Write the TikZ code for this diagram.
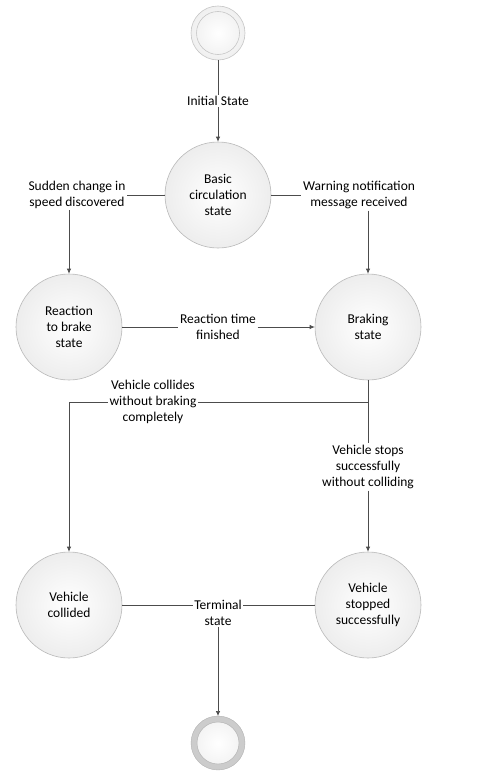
\documentclass[tikz,border=0pt]{standalone}
\usepackage{fontspec}
\setmainfont{Carlito}
\usetikzlibrary{arrows.meta}
\begin{document}
\begin{tikzpicture}[x=1pt,y=-1pt,
  every node/.style={font=\fontsize{13.5}{16}\selectfont},
  state/.style={circle,draw=gray!55,line width=0.6pt,minimum size=106pt,inner sep=0pt,align=center,
    inner color=white,outer color=gray!14},
  lbl/.style={fill=white,inner sep=1.5pt,align=center},
  conn/.style={draw=black!70,line width=0.7pt},
  arr/.style={conn,-{Latex[length=5pt,width=4.5pt]}}]
\useasboundingbox (0,0) rectangle (500,771);
% states
\node[circle,draw=gray!45,line width=0.6pt,minimum size=54pt,inner sep=0pt,inner color=white,outer color=gray!12] (init) at (218,33) {};
\node[circle,draw=gray!45,line width=0.6pt,minimum size=43pt,inner sep=0pt] (initin) at (218,33) {};
\node[state] (basic) at (218,195) {Basic\\circulation\\state};
\node[state] (react) at (69,327) {Reaction\\to brake\\state};
\node[state] (brake) at (368,327) {Braking\\state};
\node[state] (coll) at (69,605) {Vehicle\\collided};
\node[state] (stop) at (368,605) {Vehicle\\stopped\\successfully};
\node[circle,draw=gray!40,line width=6pt,minimum size=48pt,inner sep=0pt,inner color=white,outer color=gray!10] (final) at (218,743) {};
\draw[gray!60,line width=0.4pt] (final.center) circle (27pt) (final.center) circle (21pt);
% labels
\node[lbl] (lInit) at (218,101) {Initial State};
\node[lbl] (lSudden) at (77,195) {Sudden change in\\speed discovered};
\node[lbl] (lWarn) at (359,195) {Warning notification\\message received};
\node[lbl] (lReact) at (218,327) {Reaction time\\finished};
\node[lbl] (lColl) at (153,402) {Vehicle collides\\without braking\\completely};
\node[lbl] (lStop) at (368,467) {Vehicle stops\\successfully\\without colliding};
\node[lbl] (lTerm) at (218,613) {Terminal\\state};
\coordinate (j) at (368,402);
% connectors
\draw[conn] (init) -- (lInit);
\draw[arr] (lInit) -- (basic);
\draw[conn] (basic.west) -- (lSudden.east);
\draw[arr] (lSudden.south -| react.north) -- (react.north);
\draw[conn] (basic.east) -- (lWarn.west);
\draw[arr] (lWarn.south -| brake.north) -- (brake.north);
\draw[conn] (react.east) -- (lReact.west);
\draw[arr] (lReact.east) -- (brake.west);
\draw[conn] (brake.south) -- (j);
\draw[conn] (j) -- (lColl.east);
\draw[arr] (lColl.west) -| (coll.north);
\draw[conn] (j) -- (lStop.north);
\draw[arr] (lStop.south) -- (stop.north);
\draw[conn] (coll.east) -- (lTerm.west |- coll.east);
\draw[conn] (stop.west) -- (lTerm.east |- stop.west);
\draw[arr] (lTerm.south) -- (final.north);
\end{tikzpicture}
\end{document}
